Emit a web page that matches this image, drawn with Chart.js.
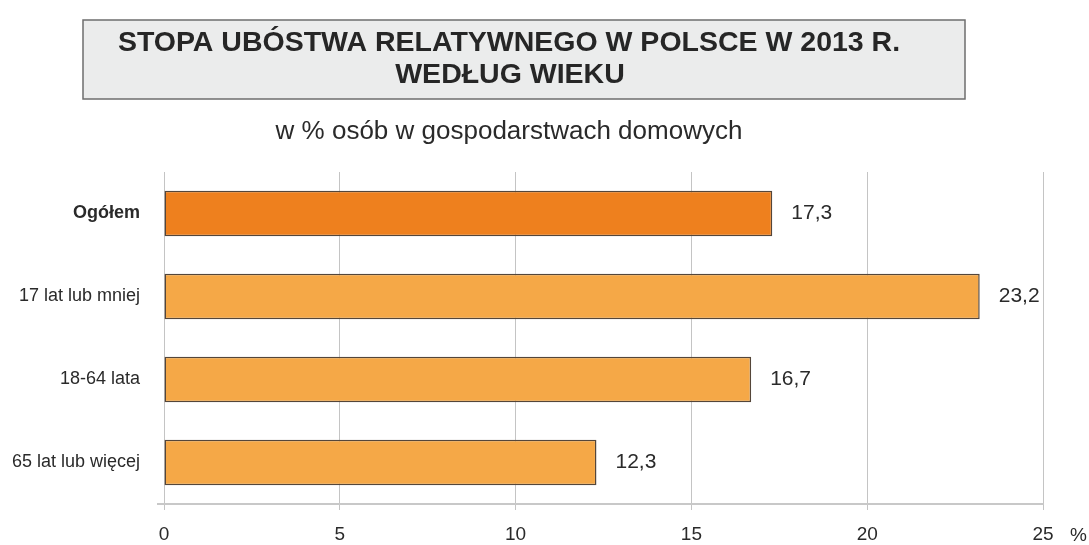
<!DOCTYPE html>
<html><head><meta charset="utf-8">
<script src="https://cdn.jsdelivr.net/npm/chart.js@4"></script>
<style>html,body{margin:0;padding:0;background:#fff}#w{width:1089px;height:545px}</style>
</head><body><div id="w"><canvas id="c" width="1089" height="545"></canvas></div>
<script>
const categories = ["Ogółem", "17 lat lub mniej", "18-64 lata", "65 lat lub więcej"];
const values = [17.3, 23.2, 16.7, 12.3];
const valueLabels = ["17,3", "23,2", "16,7", "12,3"];
const xTicks = [0, 5, 10, 15, 20, 25];
const titleLines = ["STOPA UBÓSTWA RELATYWNEGO W POLSCE W 2013 R.", "WEDŁUG WIEKU"];
const subtitle = "w % osób w gospodarstwach domowych";
const unit = "%";
const barColors = ["#EE801E", "#F5A847", "#F5A847", "#F5A847"];

const FONT = "'Liberation Sans', Arial, sans-serif";

const decor = {
  id: 'decor',
  beforeDraw(chart) {
    const c = chart.ctx;
    c.save();
    c.fillStyle = '#ebecec';
    c.fillRect(83, 20, 882, 79);
    c.strokeStyle = '#6e6e6e';
    c.lineWidth = 1.5;
    c.strokeRect(83, 20, 882, 79);
    c.fillStyle = '#262626';
    c.font = "bold 28.5px " + FONT;
    c.textAlign = 'center';
    c.textBaseline = 'alphabetic';
    c.fillText(titleLines[0], 509, 51);
    c.fillText(titleLines[1], 510, 83);
    c.font = "26px " + FONT;
    c.fillStyle = '#2a2a2a';
    c.fillText(subtitle, 509, 139);
    c.restore();
  },
  afterDatasetsDraw(chart) {
    const c = chart.ctx;
    const meta = chart.getDatasetMeta(0);
    const xs = chart.scales.x, ys = chart.scales.y;
    c.save();
    c.strokeStyle = '#c8c8c8';
    c.lineWidth = 2;
    c.beginPath();
    c.moveTo(157, ys.bottom);
    c.lineTo(xs.left, ys.bottom);
    c.stroke();
    c.fillStyle = '#2a2a2a';
    c.font = "21px " + FONT;
    c.textAlign = 'left';
    c.textBaseline = 'middle';
    meta.data.forEach((bar, i) => {
      c.fillText(valueLabels[i], bar.x + 19, bar.y);
    });
    c.font = "19px " + FONT;
    c.fillText(unit, 1070, 536);
    c.restore();
  }
};

new Chart(document.getElementById('c'), {
  type: 'bar',
  data: {
    labels: categories,
    datasets: [{
      data: values,
      backgroundColor: barColors,
      borderColor: '#54463a',
      borderWidth: 1.5,
      borderSkipped: false,
      barPercentage: 0.55,
      categoryPercentage: 1.0
    }]
  },
  options: {
    indexAxis: 'y',
    responsive: false,
    animation: false,
    layout: { padding: { top: 172, right: 46, left: 0, bottom: 0 } },
    plugins: { legend: { display: false }, tooltip: { enabled: false }, title: { display: false } },
    scales: {
      x: {
        min: 0, max: 25,
        afterBuildTicks(s) { s.ticks = xTicks.map(v => ({ value: v })); },
        afterFit(s) { s.height = 41; },
        grid: { color: '#c4c4c4', lineWidth: 1, tickLength: 6, drawTicks: true },
        border: { color: '#c8c8c8', width: 2 },
        ticks: { color: '#2a2a2a', font: { family: FONT, size: 19 }, padding: 13, maxRotation: 0 }
      },
      y: {
        afterFit(s) { s.width = 164; },
        grid: { display: false, drawTicks: false },
        border: { display: false },
        ticks: {
          color: '#2a2a2a',
          padding: 24,
          font: (ctx) => ctx.index === 0 ? { family: FONT, size: 18, weight: 'bold' } : { family: FONT, size: 18 }
        }
      }
    }
  },
  plugins: [decor]
});
</script>
</body></html>
